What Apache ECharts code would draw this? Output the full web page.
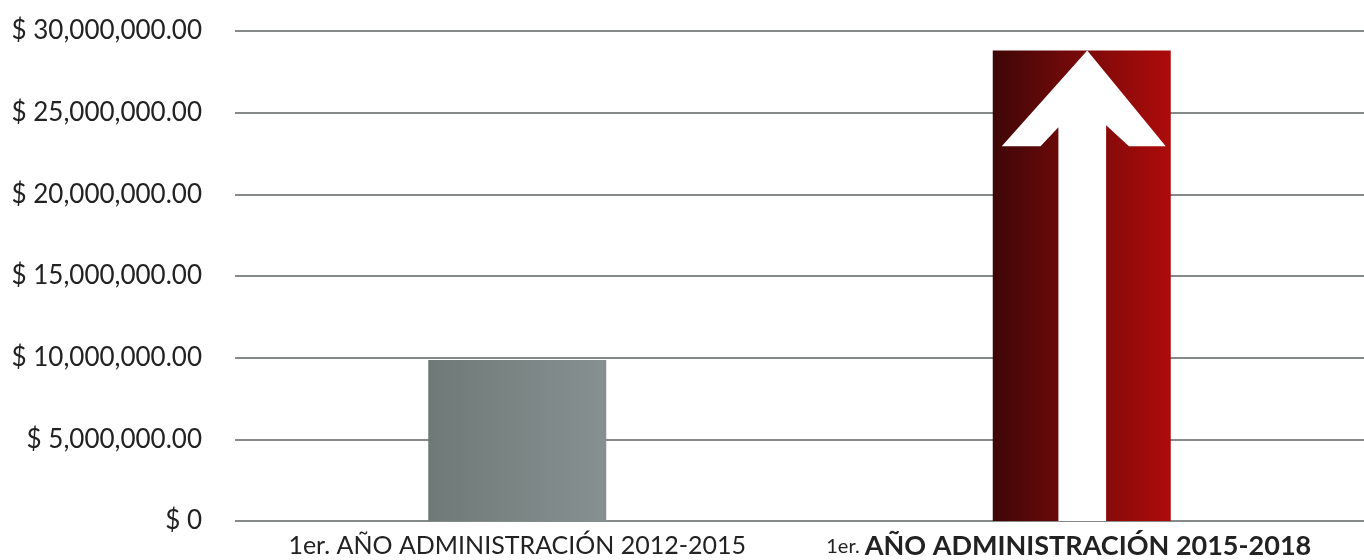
<!DOCTYPE html>
<html><head><meta charset="utf-8">
<script src="https://cdn.jsdelivr.net/npm/echarts@6/dist/echarts.min.js"></script>
<style>html,body{margin:0;padding:0;background:#fff}#c{width:1364px;height:560px}</style>
</head><body><div id="c"></div>
<script>
const categories = ['1er. AÑO ADMINISTRACIÓN 2012-2015', '1er. AÑO ADMINISTRACIÓN 2015-2018'];
const values = [9850000, 28800000];
const yTicks = [0, 5000000, 10000000, 15000000, 20000000, 25000000, 30000000];

const chart = echarts.init(document.getElementById('c'));
const arrowPath = 'path://M96,0 L175,96 L138,96 L115,75 L115,472 L67,472 L67,77 L49,96 L10,96 Z';
const font = 'Lato, "Open Sans", sans-serif';
chart.setOption({
  animation: false,
  grid: { left: 235, right: 0, top: 31, bottom: 38 },
  xAxis: {
    type: 'category', data: categories,
    axisLine: { show: false }, axisTick: { show: false },
    axisLabel: {
      margin: 12, fontFamily: font, color: '#222',
      formatter: function (v, i) {
        const rest = v.replace('1er. ', '');
        return i === 0 ? '{r|1er. ' + rest + '}' : '{s|1er. }{b|' + rest + '}';
      },
      rich: {
        r: { fontSize: 25, fontFamily: font, color: '#222' },
        s: { fontSize: 20, fontFamily: font, color: '#222' },
        b: { fontSize: 27, fontWeight: 'bold', fontFamily: font, color: '#222', padding: [0, 26, 0, 0] }
      }
    }
  },
  yAxis: {
    type: 'value', min: 0, max: 30000000, interval: 5000000,
    axisLine: { show: false }, axisTick: { show: false },
    splitLine: { lineStyle: { color: '#5c6262', width: 1.5 } },
    axisLabel: {
      margin: 33, fontSize: 26, fontFamily: font, color: '#222',
      formatter: function (v) {
        if (yTicks.indexOf(v) < 0) return '';
        return v === 0 ? '$ 0' : '$ ' + v.toLocaleString('en-US', { minimumFractionDigits: 2 });
      }
    }
  },
  series: [
    {
      type: 'bar', barWidth: 178,
      data: values.map(function (v, i) {
        return {
          value: v,
          itemStyle: {
            color: i === 0
              ? new echarts.graphic.LinearGradient(0, 0, 1, 0, [{ offset: 0, color: '#6f7a78' }, { offset: 1, color: '#879090' }])
              : new echarts.graphic.LinearGradient(0, 0, 1, 0, [{ offset: 0, color: '#3e0606' }, { offset: 0.5, color: '#7a0a0a' }, { offset: 1, color: '#ad0b0b' }])
          }
        };
      })
    },
    {
      type: 'pictorialBar', symbol: arrowPath, symbolRepeat: false,
      symbolPosition: 'start', symbolSize: [164, '100%'], symbolOffset: [2, 0],
      itemStyle: { color: '#ffffff' }, z: 5,
      data: values.map(function (v, i) { return i === 1 ? v : '-'; })
    }
  ]
});
</script></body></html>
